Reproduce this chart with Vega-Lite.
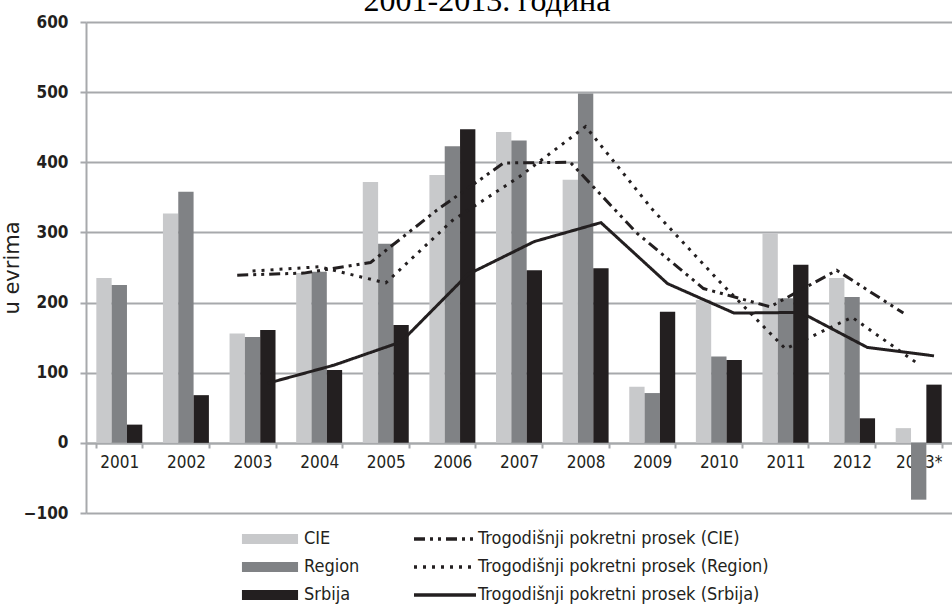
{
  "$schema": "https://vega.github.io/schema/vega-lite/v6.json",
  "autosize": {"type": "none"},
  "width": 866,
  "height": 491,
  "padding": {"left": 86, "top": 22, "right": 0, "bottom": 92},
  "background": "white",
  "datasets": {
    "heading": [{"t": "2001-2013. година", "year": "2007", "value": 616}],
    "bars": [
      {"year": "2001", "series": "CIE", "value": 235},
      {"year": "2001", "series": "Region", "value": 225},
      {"year": "2001", "series": "Srbija", "value": 26},
      {"year": "2002", "series": "CIE", "value": 327},
      {"year": "2002", "series": "Region", "value": 358},
      {"year": "2002", "series": "Srbija", "value": 68},
      {"year": "2003", "series": "CIE", "value": 156},
      {"year": "2003", "series": "Region", "value": 151},
      {"year": "2003", "series": "Srbija", "value": 161},
      {"year": "2004", "series": "CIE", "value": 242},
      {"year": "2004", "series": "Region", "value": 244},
      {"year": "2004", "series": "Srbija", "value": 104},
      {"year": "2005", "series": "CIE", "value": 372},
      {"year": "2005", "series": "Region", "value": 284},
      {"year": "2005", "series": "Srbija", "value": 168},
      {"year": "2006", "series": "CIE", "value": 382},
      {"year": "2006", "series": "Region", "value": 423},
      {"year": "2006", "series": "Srbija", "value": 447},
      {"year": "2007", "series": "CIE", "value": 443},
      {"year": "2007", "series": "Region", "value": 431},
      {"year": "2007", "series": "Srbija", "value": 246},
      {"year": "2008", "series": "CIE", "value": 375},
      {"year": "2008", "series": "Region", "value": 498},
      {"year": "2008", "series": "Srbija", "value": 249},
      {"year": "2009", "series": "CIE", "value": 80},
      {"year": "2009", "series": "Region", "value": 71},
      {"year": "2009", "series": "Srbija", "value": 187},
      {"year": "2010", "series": "CIE", "value": 204},
      {"year": "2010", "series": "Region", "value": 123},
      {"year": "2010", "series": "Srbija", "value": 118},
      {"year": "2011", "series": "CIE", "value": 299},
      {"year": "2011", "series": "Region", "value": 206},
      {"year": "2011", "series": "Srbija", "value": 254},
      {"year": "2012", "series": "CIE", "value": 235},
      {"year": "2012", "series": "Region", "value": 208},
      {"year": "2012", "series": "Srbija", "value": 35},
      {"year": "2013*", "series": "CIE", "value": 21},
      {"year": "2013*", "series": "Region", "value": -81},
      {"year": "2013*", "series": "Srbija", "value": 83}
    ],
    "lines": [
      {"year": "2003", "grp": "CIE", "ma": "Trogodišnji pokretni prosek (CIE)", "value": 239},
      {"year": "2004", "grp": "CIE", "ma": "Trogodišnji pokretni prosek (CIE)", "value": 242},
      {"year": "2005", "grp": "CIE", "ma": "Trogodišnji pokretni prosek (CIE)", "value": 257},
      {"year": "2006", "grp": "CIE", "ma": "Trogodišnji pokretni prosek (CIE)", "value": 332},
      {"year": "2007", "grp": "CIE", "ma": "Trogodišnji pokretni prosek (CIE)", "value": 399},
      {"year": "2008", "grp": "CIE", "ma": "Trogodišnji pokretni prosek (CIE)", "value": 400},
      {"year": "2009", "grp": "CIE", "ma": "Trogodišnji pokretni prosek (CIE)", "value": 299},
      {"year": "2010", "grp": "CIE", "ma": "Trogodišnji pokretni prosek (CIE)", "value": 220},
      {"year": "2011", "grp": "CIE", "ma": "Trogodišnji pokretni prosek (CIE)", "value": 194},
      {"year": "2012", "grp": "CIE", "ma": "Trogodišnji pokretni prosek (CIE)", "value": 246},
      {"year": "2013*", "grp": "CIE", "ma": "Trogodišnji pokretni prosek (CIE)", "value": 185},
      {"year": "2003", "grp": "Region", "ma": "Trogodišnji pokretni prosek (Region)", "value": 245},
      {"year": "2004", "grp": "Region", "ma": "Trogodišnji pokretni prosek (Region)", "value": 251},
      {"year": "2005", "grp": "Region", "ma": "Trogodišnji pokretni prosek (Region)", "value": 228},
      {"year": "2006", "grp": "Region", "ma": "Trogodišnji pokretni prosek (Region)", "value": 317},
      {"year": "2007", "grp": "Region", "ma": "Trogodišnji pokretni prosek (Region)", "value": 379},
      {"year": "2008", "grp": "Region", "ma": "Trogodišnji pokretni prosek (Region)", "value": 451},
      {"year": "2009", "grp": "Region", "ma": "Trogodišnji pokretni prosek (Region)", "value": 333},
      {"year": "2010", "grp": "Region", "ma": "Trogodišnji pokretni prosek (Region)", "value": 231},
      {"year": "2011", "grp": "Region", "ma": "Trogodišnji pokretni prosek (Region)", "value": 134},
      {"year": "2012", "grp": "Region", "ma": "Trogodišnji pokretni prosek (Region)", "value": 179},
      {"year": "2013*", "grp": "Region", "ma": "Trogodišnji pokretni prosek (Region)", "value": 112},
      {"year": "2003", "grp": "Srbija", "ma": "Trogodišnji pokretni prosek (Srbija)", "value": 85},
      {"year": "2004", "grp": "Srbija", "ma": "Trogodišnji pokretni prosek (Srbija)", "value": 111},
      {"year": "2005", "grp": "Srbija", "ma": "Trogodišnji pokretni prosek (Srbija)", "value": 144},
      {"year": "2006", "grp": "Srbija", "ma": "Trogodišnji pokretni prosek (Srbija)", "value": 240},
      {"year": "2007", "grp": "Srbija", "ma": "Trogodišnji pokretni prosek (Srbija)", "value": 287},
      {"year": "2008", "grp": "Srbija", "ma": "Trogodišnji pokretni prosek (Srbija)", "value": 314},
      {"year": "2009", "grp": "Srbija", "ma": "Trogodišnji pokretni prosek (Srbija)", "value": 227},
      {"year": "2010", "grp": "Srbija", "ma": "Trogodišnji pokretni prosek (Srbija)", "value": 185},
      {"year": "2011", "grp": "Srbija", "ma": "Trogodišnji pokretni prosek (Srbija)", "value": 186},
      {"year": "2012", "grp": "Srbija", "ma": "Trogodišnji pokretni prosek (Srbija)", "value": 136},
      {"year": "2013*", "grp": "Srbija", "ma": "Trogodišnji pokretni prosek (Srbija)", "value": 124}
    ]
  },
  "encoding": {
    "x": {
      "field": "year",
      "type": "nominal",
      "scale": {"paddingInner": 0.31, "paddingOuter": 0.155},
      "axis": {
        "title": null,
        "orient": "bottom",
        "offset": -70,
        "labelAngle": 0,
        "tickBand": "extent",
        "tickSize": 5,
        "tickColor": "#a7a9ac",
        "tickWidth": 2,
        "domainColor": "#a7a9ac",
        "domainWidth": 2,
        "labelPadding": 6,
        "labelFont": "DejaVu Sans Condensed",
        "labelFontSize": 17,
        "labelColor": "#231f20",
        "grid": false
      }
    },
    "y": {
      "field": "value",
      "type": "quantitative",
      "scale": {"domain": [-100, 600], "nice": false, "zero": false},
      "axis": {
        "title": "u evrima",
        "values": [-100, 0, 100, 200, 300, 400, 500, 600],
        "format": "d",
        "grid": true,
        "gridColor": "#a7a9ac",
        "gridWidth": 2,
        "domainColor": "#a7a9ac",
        "domainWidth": 2,
        "tickColor": "#a7a9ac",
        "tickWidth": 2,
        "tickSize": 6,
        "labelPadding": 12,
        "labelFont": "DejaVu Sans Condensed",
        "labelFontSize": 17,
        "labelFontWeight": 600,
        "labelColor": "#231f20",
        "titleFont": "DejaVu Sans",
        "titleFontSize": 21,
        "titleFontWeight": "normal",
        "titleColor": "#231f20",
        "titlePadding": 1
      }
    }
  },
  "layer": [
    {
      "data": {"name": "bars"},
      "mark": {"type": "bar"},
      "encoding": {
        "xOffset": {"field": "series", "type": "nominal", "scale": {"domain": ["CIE", "Region", "Srbija"], "paddingInner": 0}},
        "fill": {
          "field": "series",
          "type": "nominal",
          "scale": {"domain": ["CIE", "Region", "Srbija"], "range": ["#c8c9cb", "#808285", "#231f20"]},
          "legend": {
            "title": null,
            "orient": "none",
            "legendX": 175,
            "legendY": 508,
            "padding": 0,
            "symbolType": "M-5.1,-0.9H5.1V0.9H-5.1Z",
            "symbolSize": 121,
            "symbolStrokeWidth": 0,
            "labelOffset": 25,
            "rowPadding": 10,
            "labelLimit": 300,
            "labelFont": "DejaVu Sans Condensed",
            "labelFontSize": 18,
            "labelColor": "#231f20"
          }
        }
      }
    },
    {
      "data": {"name": "lines"},
      "mark": {"type": "line", "color": "#231f20", "strokeWidth": 3},
      "encoding": {
        "xOffset": {"field": "grp", "type": "nominal"},
        "strokeDash": {
          "field": "ma",
          "type": "nominal",
          "scale": {
            "domain": ["Trogodišnji pokretni prosek (CIE)", "Trogodišnji pokretni prosek (Region)", "Trogodišnji pokretni prosek (Srbija)"],
            "range": [[11, 5, 3, 5, 3, 5], [3, 6], [1, 0]]
          },
          "legend": {
            "title": null,
            "orient": "none",
            "legendX": 350,
            "legendY": 508,
            "padding": 0,
            "symbolType": "M-6.2,0H6.2",
            "symbolSize": 100,
            "symbolStrokeWidth": 3.5,
            "symbolStrokeColor": "#231f20",
            "symbolFillColor": "transparent",
            "labelOffset": 24,
            "rowPadding": 10,
            "labelLimit": 400,
            "labelFont": "DejaVu Sans Condensed",
            "labelFontSize": 18,
            "labelColor": "#231f20"
          }
        }
      }
    },
    {
      "data": {"name": "heading"},
      "mark": {
        "type": "text",
        "font": "Liberation Serif",
        "fontSize": 32,
        "color": "#000000",
        "align": "center",
        "baseline": "alphabetic",
        "dx": -32
      },
      "encoding": {
        "text": {"field": "t"}
      }
    }
  ],
  "config": {
    "view": {"stroke": null}
  }
}
